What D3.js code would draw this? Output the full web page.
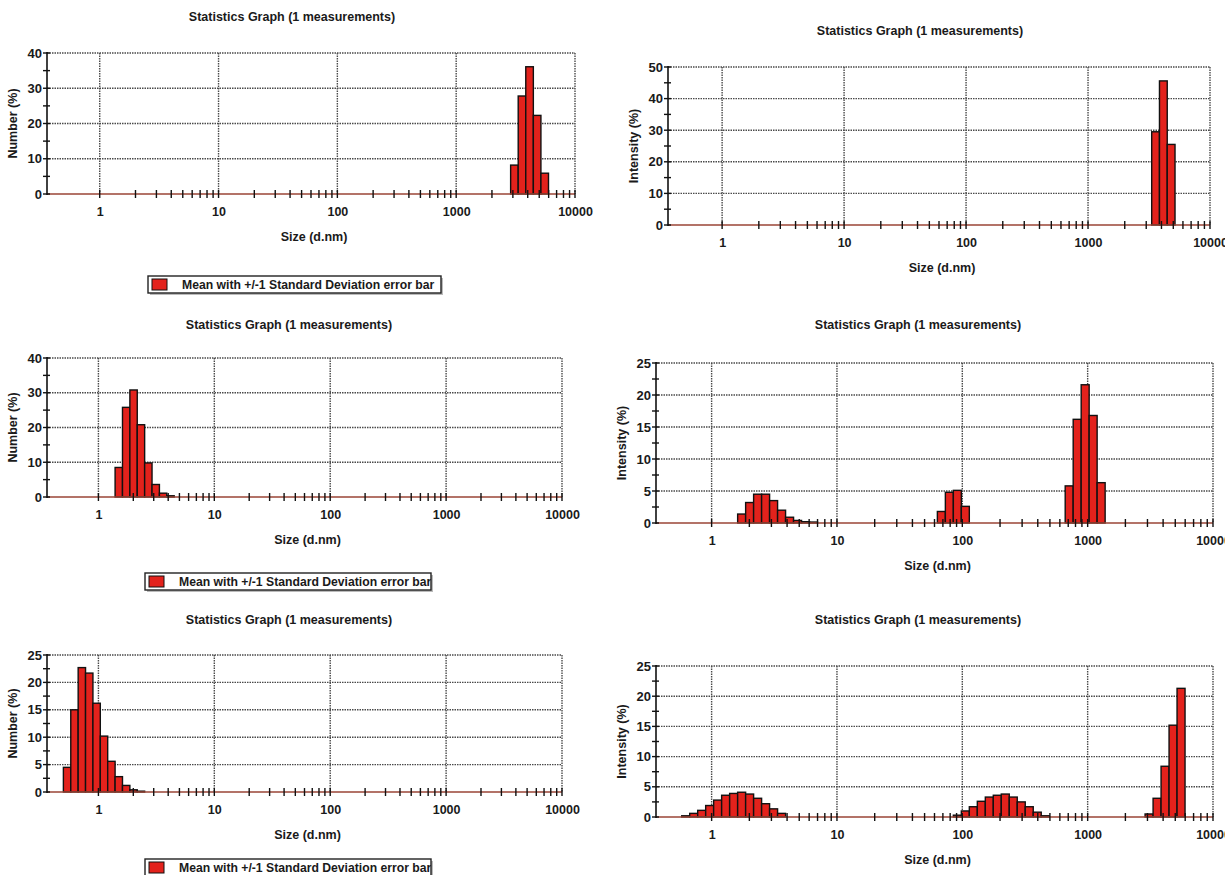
<!DOCTYPE html>
<html>
<head>
<meta charset="utf-8">
<script src="https://cdn.jsdelivr.net/npm/d3@7/dist/d3.min.js"></script>
<style>
  html, body { margin: 0; padding: 0; background: #ffffff; }
  svg { display: block; }
  text { font-family: "Liberation Sans", Arial, sans-serif; font-weight: bold; fill: #1a1a1a; }
</style>
</head>
<body>
<svg id="chart" width="1225" height="875"></svg>
<script>
// Size classes (d.nm) of the particle sizer, one bar per class
const sizeClasses = [0.4, 0.4632, 0.5365, 0.6213, 0.7195, 0.8332, 0.9649, 1.117, 1.294, 1.499,
  1.736, 2.01, 2.328, 2.696, 3.122, 3.615, 4.187, 4.849, 5.615, 6.503, 7.531, 8.721, 10.1, 11.7,
  13.54, 15.69, 18.17, 21.04, 24.36, 28.21, 32.67, 37.84, 43.82, 50.75, 58.77, 68.06, 78.82,
  91.28, 105.7, 122.4, 141.8, 164.2, 190.1, 220.2, 255, 295.3, 342, 396.1, 458.7, 531.2, 615.1,
  712.4, 825, 955.4, 1106, 1281, 1484, 1718, 1990, 2305, 2669, 3091, 3580, 4145, 4801, 5560,
  6439, 7456, 8635, 10000];

const xTickValues = [1, 10, 100, 1000, 10000];
const xTickLabels = ["1", "10", "100", "1000", "10000"];
const xMinorValues = [2, 3, 4, 5, 6, 7, 8, 9, 20, 30, 40, 50, 60, 70, 80, 90,
  200, 300, 400, 500, 600, 700, 800, 900, 2000, 3000, 4000, 5000, 6000, 7000, 8000, 9000];

const titleText = "Statistics Graph (1 measurements)";
const xTitle = "Size (d.nm)";
const legendText = "Mean with +/-1 Standard Deviation error bar";

// Sample A, number distribution
const aNumberSizes = [3091, 3580, 4145, 4801, 5560];
const aNumberValues = [8.2, 27.8, 36.1, 22.3, 5.9];
// Sample A, intensity distribution
const aIntensitySizes = [3580, 4145, 4801];
const aIntensityValues = [29.5, 45.6, 25.5];
// Sample B, number distribution
const bNumberSizes = [1.499, 1.736, 2.01, 2.328, 2.696, 3.122, 3.615, 4.187];
const bNumberValues = [8.5, 25.8, 30.8, 20.8, 9.8, 3.6, 1.1, 0.35];
// Sample B, intensity distribution
const bIntensitySizes = [1.736, 2.01, 2.328, 2.696, 3.122, 3.615, 4.187, 4.849, 5.615, 6.503,
  68.06, 78.82, 91.28, 105.7, 712.4, 825, 955.4, 1106, 1281];
const bIntensityValues = [1.4, 3.2, 4.5, 4.5, 3.5, 2.0, 0.9, 0.4, 0.2, 0.15,
  1.8, 4.8, 5.1, 2.6, 5.8, 16.2, 21.6, 16.8, 6.3];
// Sample C, number distribution
const cNumberSizes = [0.5365, 0.6213, 0.7195, 0.8332, 0.9649, 1.117, 1.294, 1.499, 1.736, 2.01, 2.328];
const cNumberValues = [4.5, 15.0, 22.7, 21.7, 16.2, 10.2, 5.6, 2.8, 1.2, 0.4, 0.15];
// Sample C, intensity distribution
const cIntensitySizes = [0.6213, 0.7195, 0.8332, 0.9649, 1.117, 1.294, 1.499, 1.736, 2.01, 2.328,
  2.696, 3.122, 3.615, 91.28, 105.7, 122.4, 141.8, 164.2, 190.1, 220.2, 255, 295.3, 342, 396.1,
  458.7, 3091, 3580, 4145, 4801, 5560];
const cIntensityValues = [0.2, 0.6, 1.1, 1.9, 2.8, 3.6, 3.9, 4.1, 3.8, 3.1, 2.2, 1.35, 0.6,
  0.3, 1.0, 1.7, 2.6, 3.3, 3.6, 3.8, 3.3, 2.5, 1.7, 0.8, 0.2, 0.5, 3.1, 8.4, 15.2, 21.3];

const panels = [
  { sizes: aNumberSizes, values: aNumberValues, yLabel: "Number (%)", yMax: 40, yStep: 10,
    box: { l: 47, r: 575, t: 53, b: 194 }, titleX: 292, titleY: 21, legend: { x: 148, y: 276, w: 293 } },
  { sizes: aIntensitySizes, values: aIntensityValues, yLabel: "Intensity (%)", yMax: 50, yStep: 10,
    box: { l: 668, r: 1210, t: 67, b: 225 }, titleX: 920, titleY: 35 },
  { sizes: bNumberSizes, values: bNumberValues, yLabel: "Number (%)", yMax: 40, yStep: 10,
    box: { l: 47, r: 562, t: 358, b: 497 }, titleX: 289, titleY: 329, legend: { x: 145, y: 573, w: 286 } },
  { sizes: bIntensitySizes, values: bIntensityValues, yLabel: "Intensity (%)", yMax: 25, yStep: 5,
    box: { l: 656, r: 1213, t: 363, b: 523 }, titleX: 918, titleY: 329 },
  { sizes: cNumberSizes, values: cNumberValues, yLabel: "Number (%)", yMax: 25, yStep: 5,
    box: { l: 47, r: 562, t: 655, b: 792 }, titleX: 289, titleY: 624, legend: { x: 145, y: 859, w: 286 } },
  { sizes: cIntensitySizes, values: cIntensityValues, yLabel: "Intensity (%)", yMax: 25, yStep: 5,
    box: { l: 656, r: 1213, t: 666, b: 817 }, titleX: 918, titleY: 624 }
];

const svg = d3.select("#chart");
svg.append("rect").attr("width", 1225).attr("height", 875).attr("fill", "#ffffff");

const gridColor = "#4a4a4a";
const axisRed = "#9a4536";

function binEdges(size) {
  const i = sizeClasses.indexOf(size);
  const prev = i > 0 ? sizeClasses[i - 1] : size * size / sizeClasses[i + 1];
  const next = i < sizeClasses.length - 1 ? sizeClasses[i + 1] : size * size / sizeClasses[i - 1];
  return [Math.sqrt(prev * size), Math.sqrt(size * next)];
}

panels.forEach((p, pi) => {
  const b = p.box;
  const g = svg.append("g");
  const x = d3.scaleLog().domain([0.36, 10000]).range([b.l, b.r]);
  const y = d3.scaleLinear().domain([0, p.yMax]).range([b.b, b.t]);
  const yMajor = d3.range(0, p.yMax + p.yStep / 2, p.yStep);
  const yMinor = d3.range(p.yStep / 2, p.yMax, p.yStep);

  // dotted grid: horizontal at each major value, vertical at each decade
  g.selectAll(".hgrid").data(yMajor.filter(v => v > 0)).join("line")
    .attr("x1", b.l).attr("x2", b.r)
    .attr("y1", d => y(d)).attr("y2", d => y(d))
    .attr("stroke", gridColor).attr("stroke-width", 1.4).attr("stroke-dasharray", "1.5,1");
  g.selectAll(".vgrid").data(xTickValues).join("line")
    .attr("x1", d => x(d)).attr("x2", d => x(d))
    .attr("y1", b.t).attr("y2", b.b)
    .attr("stroke", gridColor).attr("stroke-width", 1.4).attr("stroke-dasharray", "1.5,1");

  // bars, one per size class, spanning half a class either side
  g.selectAll(".bar").data(p.sizes.map((s, i) => ({ s, v: p.values[i] }))).join("rect")
    .attr("x", d => x(binEdges(d.s)[0]))
    .attr("width", d => x(binEdges(d.s)[1]) - x(binEdges(d.s)[0]))
    .attr("y", d => y(d.v))
    .attr("height", d => y(0) - y(d.v))
    .attr("fill", "#e3221c").attr("stroke", "#111").attr("stroke-width", 1.4);

  // baseline and x ticks crossing it
  g.append("line").attr("x1", b.l).attr("x2", b.r).attr("y1", y(0)).attr("y2", y(0))
    .attr("stroke", axisRed).attr("stroke-width", 1.6);
  g.selectAll(".xt").data(xTickValues.concat(xMinorValues)).join("line")
    .attr("x1", d => x(d)).attr("x2", d => x(d))
    .attr("y1", y(0) - 4).attr("y2", y(0) + 4)
    .attr("stroke", "#111").attr("stroke-width", 1.4);

  // x tick labels from the axis generator
  const xAxis = d3.axisBottom(x).tickValues(xTickValues)
    .tickFormat((d, i) => xTickLabels[i]).tickSize(0).tickPadding(13);
  const xa = g.append("g").attr("transform", `translate(0,${y(0)})`).call(xAxis);
  xa.select(".domain").remove();
  xa.selectAll("text").attr("font-size", 12.5).attr("font-family", "Liberation Sans, Arial, sans-serif")
    .attr("font-weight", "bold").attr("fill", "#1a1a1a");

  // y axis line, ticks crossing it, and labels
  g.append("line").attr("x1", b.l).attr("x2", b.l).attr("y1", b.t - 1).attr("y2", b.b + 1)
    .attr("stroke", "#111").attr("stroke-width", 1.6);
  g.selectAll(".yt").data(yMajor.concat(yMinor)).join("line")
    .attr("x1", b.l - 4).attr("x2", b.l + 3)
    .attr("y1", d => y(d)).attr("y2", d => y(d))
    .attr("stroke", "#111").attr("stroke-width", 1.4);
  const yAxis = d3.axisLeft(y).tickValues(yMajor).tickFormat(d3.format("d")).tickSize(0).tickPadding(5);
  const ya = g.append("g").attr("transform", `translate(${b.l},0)`).call(yAxis);
  ya.select(".domain").remove();
  ya.selectAll("text").attr("font-size", 13).attr("font-family", "Liberation Sans, Arial, sans-serif")
    .attr("font-weight", "bold").attr("fill", "#1a1a1a");

  // titles
  g.append("text").attr("x", p.titleX).attr("y", p.titleY).attr("text-anchor", "middle")
    .attr("font-size", 12.5).text(titleText);
  g.append("text").attr("x", (b.l + b.r) / 2 + 3).attr("y", y(0) + 47).attr("text-anchor", "middle")
    .attr("font-size", 12.5).text(xTitle);
  g.append("text")
    .attr("transform", `translate(${b.l - 30},${(b.t + b.b) / 2}) rotate(-90)`)
    .attr("text-anchor", "middle").attr("font-size", 12.5).text(p.yLabel);

  // legend box under the left-hand graphs
  if (p.legend) {
    const L = p.legend;
    const lg = svg.append("g");
    const clipId = "legclip" + pi;
    lg.append("clipPath").attr("id", clipId)
      .append("rect").attr("x", L.x).attr("y", L.y).attr("width", L.w).attr("height", 17);
    lg.append("rect").attr("x", L.x + 2).attr("y", L.y + 2).attr("width", L.w).attr("height", 17)
      .attr("fill", "#bbb");
    lg.append("rect").attr("x", L.x).attr("y", L.y).attr("width", L.w).attr("height", 17)
      .attr("fill", "#fff");
    lg.append("rect").attr("x", L.x + 4).attr("y", L.y + 3).attr("width", 15).attr("height", 11)
      .attr("fill", "#e3221c").attr("stroke", "#111").attr("stroke-width", 1);
    lg.append("text").attr("x", L.x + 34).attr("y", L.y + 13).attr("font-size", 12.2)
      .attr("clip-path", `url(#${clipId})`).text(legendText);
    lg.append("rect").attr("x", L.x).attr("y", L.y).attr("width", L.w).attr("height", 17)
      .attr("fill", "none").attr("stroke", "#222").attr("stroke-width", 1.4);
  }
});
</script>
</body>
</html>
